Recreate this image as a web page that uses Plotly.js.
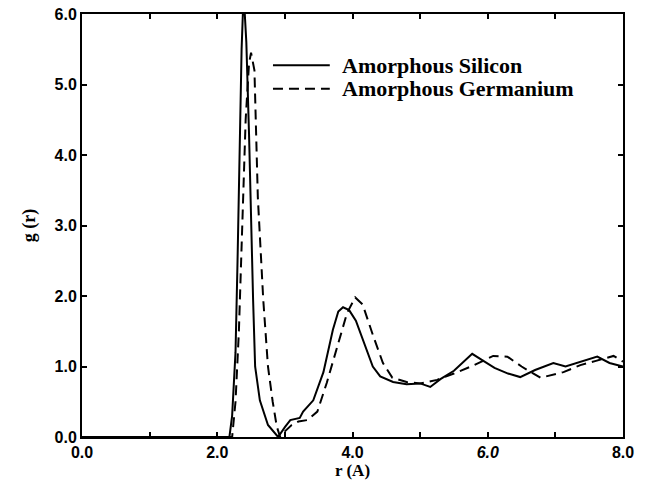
<!DOCTYPE html>
<html>
<head>
<meta charset="utf-8">
<script src="https://cdn.plot.ly/plotly-3.0.1.min.js"></script>
<style>html,body{margin:0;padding:0;background:#fff;}#chart{width:647px;height:495px;}</style>
</head>
<body>
<div id="chart"></div>
<script>
// Amorphous Silicon g(r)
const siR = [0, 2.1, 2.18, 2.22, 2.27, 2.30, 2.33, 2.36, 2.39, 2.43, 2.47, 2.49, 2.53, 2.56, 2.63, 2.75, 2.9, 3.0, 3.08, 3.22, 3.27, 3.42, 3.57, 3.71, 3.79, 3.86, 3.95, 4.05, 4.2, 4.3, 4.41, 4.6, 4.8, 5.0, 5.15, 5.3, 5.5, 5.65, 5.77, 5.9, 6.1, 6.3, 6.48, 6.7, 6.97, 7.15, 7.35, 7.62, 7.8, 8.0];
const siG = [0, 0, 0, 0.3, 1.2, 2.5, 4.0, 5.5, 6.3, 5.6, 4.3, 3.37, 1.95, 1.0, 0.52, 0.17, 0, 0.14, 0.24, 0.27, 0.36, 0.52, 0.92, 1.52, 1.78, 1.84, 1.8, 1.65, 1.25, 1.0, 0.86, 0.78, 0.75, 0.76, 0.71, 0.82, 0.94, 1.08, 1.18, 1.1, 0.98, 0.9, 0.85, 0.95, 1.05, 1.0, 1.06, 1.14, 1.05, 1.0];

// Amorphous Germanium g(r)
const geR = [0, 2.2, 2.22, 2.27, 2.32, 2.37, 2.42, 2.47, 2.5, 2.55, 2.6, 2.68, 2.75, 2.82, 2.88, 2.93, 3.0, 3.1, 3.2, 3.33, 3.48, 3.62, 3.77, 3.92, 4.04, 4.15, 4.3, 4.45, 4.59, 4.8, 5.0, 5.25, 5.5, 5.8, 6.08, 6.29, 6.5, 6.78, 7.12, 7.37, 7.6, 7.86, 8.0];
const geG = [0, 0, 0, 0.5, 1.5, 3.0, 4.5, 5.3, 5.45, 5.2, 3.4, 1.95, 1.0, 0.5, 0.15, 0, 0.08, 0.17, 0.22, 0.24, 0.36, 0.77, 1.28, 1.76, 1.98, 1.88, 1.45, 1.05, 0.84, 0.78, 0.76, 0.81, 0.9, 1.02, 1.15, 1.14, 1.0, 0.84, 0.92, 1.02, 1.08, 1.15, 1.07];

const seriesNames = ["Amorphous Silicon", "Amorphous Germanium"];
const xTickVals = [0, 1, 2, 3, 4, 5, 6, 7, 8];
const xTickText = ["0.0", "", "2.0", "", "4.0", "", "<i>6.0</i>", "", "8.0"];
const yTickVals = [0, 1, 2, 3, 4, 5, 6];
const yTickText = ["0.0", "1.0", "2.0", "3.0", "4.0", "5.0", "6.0"];

const serif = "Liberation Serif, Times New Roman, serif";
const sans = "Liberation Sans, Arial, sans-serif";

const traces = [
  {x: siR, y: siG, name: seriesNames[0], mode: "lines", type: "scatter",
   line: {color: "#000", width: 2}},
  {x: geR, y: geG, name: seriesNames[1], mode: "lines", type: "scatter",
   line: {color: "#000", width: 2, dash: "10px,6px"}}
];

// legend drawn as sample lines + text
const legY = [0.879, 0.823];
const legDash = ["solid", "10px,6px"];
const shapes = seriesNames.map((n, i) => ({
  type: "line", xref: "paper", yref: "paper",
  x0: 0.353, x1: 0.458, y0: legY[i], y1: legY[i],
  line: {color: "#000", width: 2, dash: legDash[i]}
}));
const annotations = seriesNames.map((n, i) => ({
  xref: "paper", yref: "paper", x: 0.477, y: legY[i],
  xanchor: "left", yanchor: "middle", showarrow: false, text: n,
  font: {family: serif, size: 22, color: "#000", weight: "bold"}
}));

const layout = {
  width: 647, height: 495,
  margin: {l: 82, r: 24, t: 14, b: 58},
  paper_bgcolor: "#fff", plot_bgcolor: "#fff",
  showlegend: false,
  shapes: shapes,
  annotations: annotations,
  xaxis: {range: [0, 8], tickvals: xTickVals, ticktext: xTickText,
          ticks: "inside", ticklen: 5, tickwidth: 2, tickcolor: "#000",
          showline: true, linecolor: "#000", linewidth: 2, mirror: "ticks",
          showgrid: false, zeroline: false,
          tickfont: {family: sans, size: 16, color: "#000", weight: "bold"},
          title: {text: "r (A)", font: {family: serif, size: 17, color: "#000", weight: "bold"}, standoff: 2}},
  yaxis: {range: [0, 6], tickvals: yTickVals, ticktext: yTickText,
          ticks: "inside", ticklen: 5, tickwidth: 2, tickcolor: "#000",
          showline: true, linecolor: "#000", linewidth: 2, mirror: "ticks",
          showgrid: false, zeroline: false,
          tickfont: {family: sans, size: 16, color: "#000", weight: "bold"},
          title: {text: "g (r)", font: {family: serif, size: 18, color: "#000", weight: "bold"}, standoff: 14}}
};

Plotly.newPlot("chart", traces, layout, {staticPlot: true, displayModeBar: false});
</script>
</body>
</html>
